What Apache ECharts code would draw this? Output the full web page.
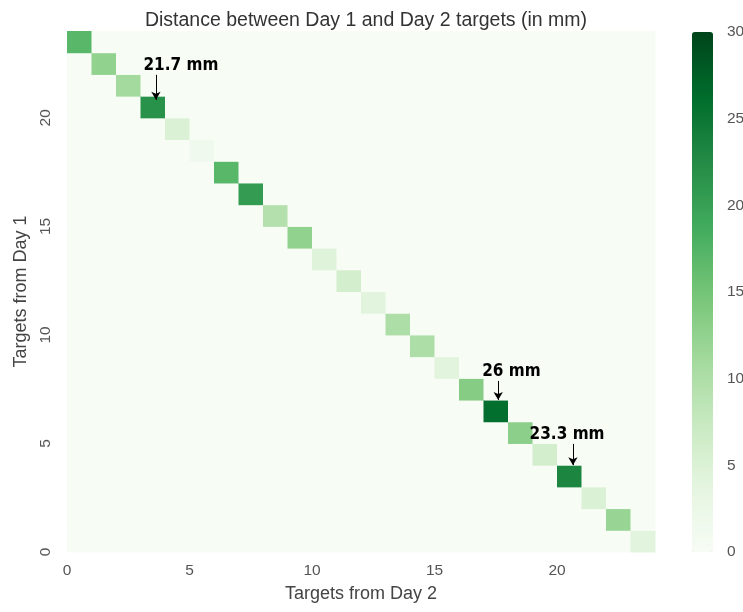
<!DOCTYPE html>
<html>
<head>
<meta charset="utf-8">
<script src="https://cdn.jsdelivr.net/npm/echarts@6/dist/echarts.min.js"></script>
<style>
  html, body { margin: 0; padding: 0; background: #fff; }
  #main { width: 743px; height: 612px; }
</style>
</head>
<body>
<div id="main"></div>
<script>
// diagonal distances (mm): target i of Day 2 vs target 23-i of Day 1
var diagValues = [17, 12.5, 11, 21.7, 5, 1.5, 17, 20.5, 9.5, 12.5, 4.5, 6,
                  4, 10, 10, 4, 13.5, 26, 13, 6, 23.3, 5, 12, 4];
var gridSize = 24;
var greens = ['#f7fcf5', '#e5f5e0', '#c7e9c0', '#a1d99b', '#74c476',
              '#41ab5d', '#238b45', '#006d2c', '#00441b'];

// annotations: label, text position, arrow start, arrow end
var notes = [
  { text: '21.7 mm', at: [4.65, 22.4], from: [3.63, 21.98], to: [3.63, 20.83] },
  { text: '26 mm',   at: [18.14, 8.33], from: [17.6, 7.88], to: [17.6, 7.0] },
  { text: '23.3 mm', at: [20.41, 5.42], from: [20.65, 4.98], to: [20.65, 4.0] }
];

var cells = [];
for (var i = 0; i < gridSize; i++) {
  for (var j = 0; j < gridSize; j++) {
    cells.push([i, j, (i + j === gridSize - 1) ? diagValues[i] : 0]);
  }
}

var font = 'Liberation Sans, Arial, sans-serif';
var myChart = echarts.init(document.getElementById('main'));

var option = {
  backgroundColor: '#fff',
  animation: false,
  title: {
    text: 'Distance between Day 1 and Day 2 targets (in mm)',
    left: 361, top: 6, textAlign: 'center',
    textStyle: { fontFamily: font, fontSize: 19.5, fontWeight: 'normal', color: '#333' }
  },
  grid: [
    { left: 67, top: 31, width: 588, height: 521, outerBoundsMode: 'none' },
    { left: 692, top: 32, width: 21, height: 520, outerBoundsMode: 'none' }
  ],
  xAxis: [{
    type: 'value', min: 0, max: gridSize, interval: 5,
    name: 'Targets from Day 2', nameLocation: 'middle', nameGap: 33,
    nameTextStyle: { fontFamily: font, fontSize: 18, color: '#444' },
    axisLine: { show: false }, axisTick: { show: false }, splitLine: { show: false },
    axisLabel: { showMaxLabel: false, margin: 11, fontFamily: font, fontSize: 15.5, color: '#555' }
  }, {
    gridIndex: 1, type: 'value', show: false
  }],
  yAxis: [{
    type: 'value', min: 0, max: gridSize, interval: 5,
    name: 'Targets from Day 1', nameLocation: 'middle', nameGap: 36,
    nameTextStyle: { fontFamily: font, fontSize: 18, color: '#444' },
    axisLine: { show: false }, axisTick: { show: false }, splitLine: { show: false },
    axisLabel: { showMaxLabel: false, rotate: 90, margin: 13, fontFamily: font, fontSize: 15.5, color: '#555' }
  }, {
    gridIndex: 1, type: 'value', min: 0, max: 30, interval: 5, position: 'right',
    axisLine: { show: false }, axisTick: { show: false }, splitLine: { show: false },
    axisLabel: { margin: 14, fontFamily: font, fontSize: 15.5, color: '#555' }
  }],
  visualMap: {
    type: 'continuous', min: 0, max: 30, dimension: 2, seriesIndex: 0,
    calculable: false, orient: 'vertical', left: 692, top: 32, padding: 0,
    itemWidth: 21, itemHeight: 520, text: null,
    inRange: { color: greens }
  },
  series: [{
    type: 'custom',
    data: cells,
    renderItem: function (params, api) {
      var p0 = api.coord([api.value(0), api.value(1) + 1]);
      var p1 = api.coord([api.value(0) + 1, api.value(1)]);
      return {
        type: 'rect',
        shape: { x: p0[0], y: p0[1], width: p1[0] - p0[0] + 0.5, height: p1[1] - p0[1] + 0.5 },
        style: { fill: api.visual('color') }
      };
    },
    silent: true
  }, {
    type: 'scatter',
    symbolSize: 0,
    itemStyle: { opacity: 1 },
    data: notes.map(function (n) { return { value: n.at, name: n.text }; }),
    label: {
      show: true, position: 'inside', formatter: '{b}',
      fontFamily: 'DejaVu Sans Condensed, Liberation Sans Narrow, sans-serif',
      fontWeight: 'bold', fontSize: 17, color: '#000'
    },
    markLine: {
      silent: true, symbol: ['none', 'arrow'], symbolSize: [7, 8],
      label: { show: false },
      lineStyle: { color: '#000', width: 1, type: 'solid', opacity: 1 },
      data: notes.map(function (n) { return [{ coord: n.from }, { coord: n.to }]; })
    }
  }]
};

myChart.setOption(option);
</script>
</body>
</html>
